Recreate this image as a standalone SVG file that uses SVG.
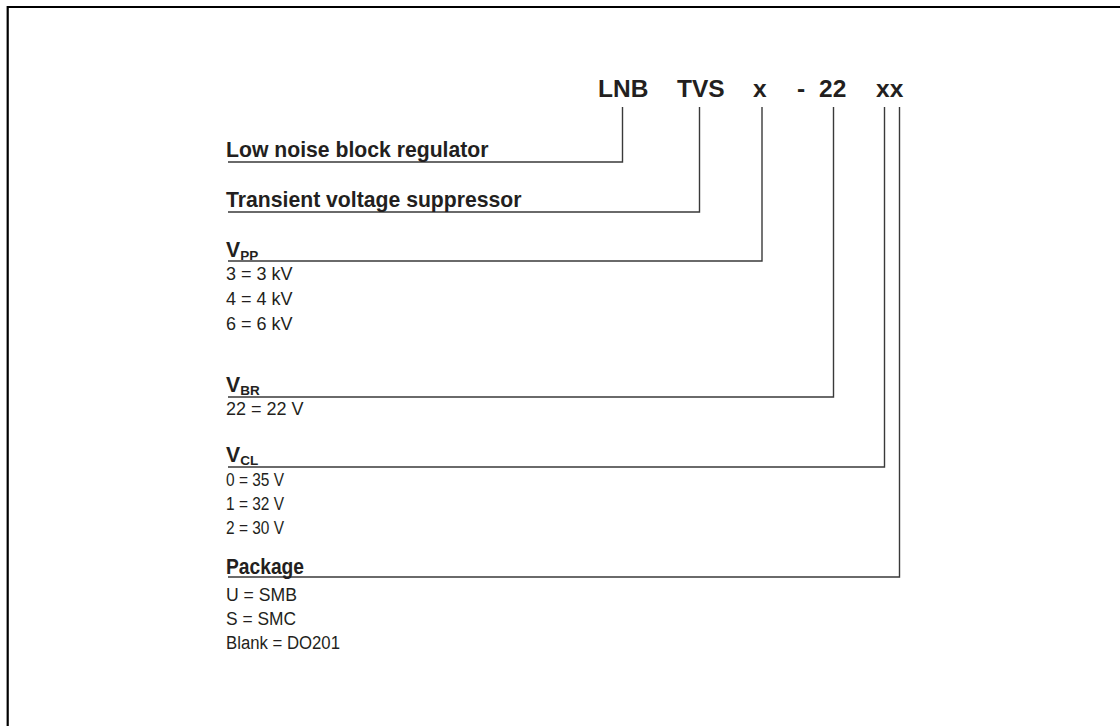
<svg xmlns="http://www.w3.org/2000/svg" width="1120" height="726" viewBox="0 0 1120 726">
<style>
.code{font-family:"Liberation Sans",Arial,sans-serif;font-weight:bold;font-size:24.5px;fill:#231f20}
.lbl{font-family:"Liberation Sans",Arial,sans-serif;font-weight:bold;font-size:21.2px;fill:#231f20}
.val{font-family:"Liberation Sans",Arial,sans-serif;font-size:18px;fill:#231f20}
.sub{font-size:13.5px}
.conn{fill:none;stroke:#3a3a3a;stroke-width:1.4}
.frame{fill:none;stroke:#000;stroke-width:2.2}
</style>
<rect width="1120" height="726" fill="#fff"/>
<path class="frame" d="M7.7,726 V7 H1120"/>
<g id="code">
<text class="code" x="598" y="97">LNB</text>
<text class="code" x="677" y="97">TVS</text>
<text class="code" x="753" y="97">x</text>
<text class="code" x="797" y="97">-</text>
<text class="code" x="819" y="97">22</text>
<text class="code" x="876" y="97">xx</text>
</g>
<g id="connectors">
<path class="conn" d="M622.5,107 V162 H228"/>
<path class="conn" d="M699.5,107 V212 H228"/>
<path class="conn" d="M762,107 V261 H228"/>
<path class="conn" d="M833.5,107 V397 H228"/>
<path class="conn" d="M884.5,107 V467 H228"/>
<path class="conn" d="M899.5,107 V577 H228"/>
</g>
<g id="node-lnb"><text class="lbl" x="226" y="157">Low noise block regulator</text></g>
<g id="node-tvs"><text class="lbl" x="226" y="207">Transient voltage suppressor</text></g>
<g id="node-vpp">
<text class="lbl" x="226" y="257">V<tspan class="sub" dy="3">PP</tspan></text>
<text class="val" x="226" y="280">3 = 3 kV</text>
<text class="val" x="226" y="305">4 = 4 kV</text>
<text class="val" x="226" y="330">6 = 6 kV</text>
</g>
<g id="node-vbr">
<text class="lbl" x="226" y="392">V<tspan class="sub" dy="3">BR</tspan></text>
<text class="val" x="226" y="415">22 = 22 V</text>
</g>
<g id="node-vcl">
<text class="lbl" x="226" y="462">V<tspan class="sub" dy="3">CL</tspan></text>
<text class="val" x="226" y="486" textLength="58" lengthAdjust="spacingAndGlyphs">0 = 35 V</text>
<text class="val" x="226" y="510" textLength="58" lengthAdjust="spacingAndGlyphs">1 = 32 V</text>
<text class="val" x="226" y="534" textLength="58" lengthAdjust="spacingAndGlyphs">2 = 30 V</text>
</g>
<g id="node-package">
<text class="lbl" x="226" y="574" textLength="78" lengthAdjust="spacingAndGlyphs">Package</text>
<text class="val" x="226" y="601" textLength="71" lengthAdjust="spacingAndGlyphs">U = SMB</text>
<text class="val" x="226" y="625" textLength="70" lengthAdjust="spacingAndGlyphs">S = SMC</text>
<text class="val" x="226" y="649" textLength="114" lengthAdjust="spacingAndGlyphs">Blank = DO201</text>
</g>
</svg>
